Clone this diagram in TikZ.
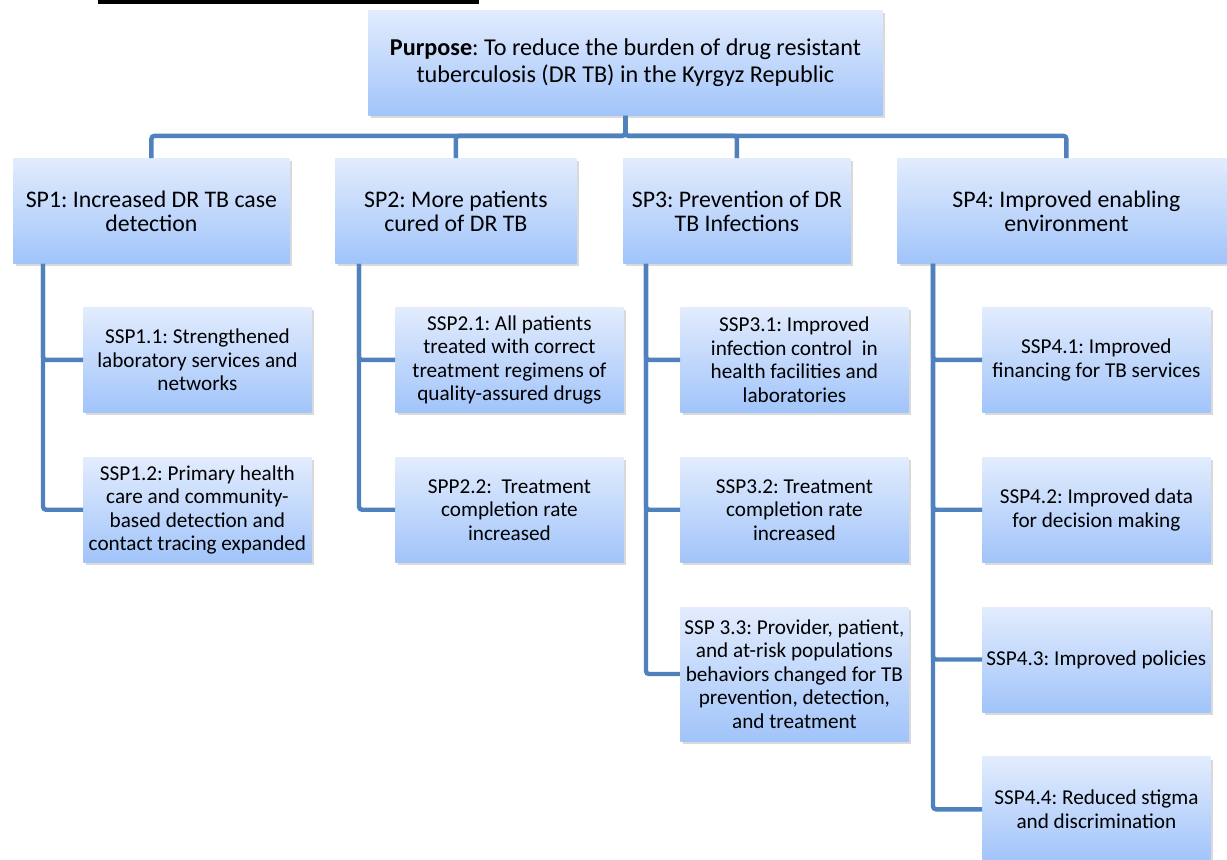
\documentclass[tikz,border=0pt]{standalone}
\usepackage{fontspec}
\setmainfont{Carlito}
\usetikzlibrary{positioning,shadows}

\definecolor{linkblue}{RGB}{79,129,189}
\definecolor{boxtop}{RGB}{226,236,253}
\definecolor{boxbot}{RGB}{161,196,250}

\tikzset{
  box/.style={anchor=north west, align=center, inner sep=2pt,
    top color=boxtop, bottom color=boxbot,
    drop shadow={opacity=0.3, shadow xshift=1.2pt, shadow yshift=-1.5pt}},
  spbox/.style={box, minimum height=52.5pt, font=\fontsize{11.9}{12}\selectfont},
  sspbox/.style={box, minimum width=114pt, minimum height=52.5pt,
    font=\fontsize{10.6}{11.75}\selectfont},
  link/.style={draw=linkblue, line width=2.2pt, rounded corners=1.5pt}
}

\frenchspacing
\begin{document}
\begin{tikzpicture}[x=0.5pt,y=-0.5pt]
\useasboundingbox (0,0) rectangle (1227,859);

\fill (98,0) rectangle (479,4);

\node[box, minimum width=257pt, minimum height=52.5pt,
  font=\fontsize{12.1}{13.5}\selectfont] (purpose) at (368,10)
  {\textbf{Purpose}: To reduce the burden of drug resistant\\tuberculosis (DR TB) in the Kyrgyz Republic};

\node[spbox, minimum width=138pt] (sp1) at (13,158) {SP1: Increased DR TB case\\detection};
\node[spbox, minimum width=120.5pt] (sp2) at (335,158) {SP2: More patients\\cured of DR TB};
\node[spbox, minimum width=113.5pt] (sp3) at (623,158) {SP3: Prevention of DR\\TB Infections};
\node[spbox, minimum width=169pt] (sp4) at (897,158) {SP4: Improved enabling\\environment};

\node[sspbox] (ssp11) at (83,307) {SSP1.1: Strengthened\\laboratory services and\\networks};
\node[sspbox, below=22pt of ssp11] (ssp12) {SSP1.2: Primary health\\care and community-\\based detection and\\contact tracing expanded};

\node[sspbox] (ssp21) at (395,307) {SSP2.1: All patients\\treated with correct\\treatment regimens of\\quality-assured drugs};
\node[sspbox, below=22pt of ssp21] (ssp22) {SPP2.2:\ \ Treatment\\completion rate\\increased};

\node[sspbox] (ssp31) at (680,307) {SSP3.1: Improved\\infection control\ \ in\\health facilities and\\laboratories};
\node[sspbox, below=22pt of ssp31] (ssp32) {SSP3.2: Treatment\\completion rate\\increased};
\node[sspbox, minimum height=67pt, below=22pt of ssp32] (ssp33) {SSP 3.3: Provider, patient,\\and at-risk populations\\behaviors changed for TB\\prevention, detection,\\and treatment};

\node[sspbox] (ssp41) at (982,307) {SSP4.1: Improved\\financing for TB services};
\node[sspbox, below=22pt of ssp41] (ssp42) {SSP4.2: Improved data\\for decision making};
\node[sspbox, below=22pt of ssp42] (ssp43) {SSP4.3: Improved policies};
\node[sspbox, below=22pt of ssp43] (ssp44) {SSP4.4: Reduced stigma\\and discrimination};

% purpose to strategic priorities
\draw[link] (purpose.south) -- ++(0,20) -| (sp1.north);
\draw[link] (purpose.south) -- ++(0,20) -| (sp2.north);
\draw[link] (purpose.south) -- ++(0,20) -| (sp3.north);
\draw[link] (purpose.south) -- ++(0,20) -| (sp4.north);

% sub priorities
\draw[link] ([xshift=15pt]sp1.south west) |- (ssp11.west);
\draw[link] ([xshift=15pt]sp1.south west) |- (ssp12.west);
\draw[link] ([xshift=12pt]sp2.south west) |- (ssp21.west);
\draw[link] ([xshift=12pt]sp2.south west) |- (ssp22.west);
\draw[link] ([xshift=11.5pt]sp3.south west) |- (ssp31.west);
\draw[link] ([xshift=11.5pt]sp3.south west) |- (ssp32.west);
\draw[link] ([xshift=11.5pt]sp3.south west) |- (ssp33.west);
\draw[link] ([xshift=18pt]sp4.south west) |- (ssp41.west);
\draw[link] ([xshift=18pt]sp4.south west) |- (ssp42.west);
\draw[link] ([xshift=18pt]sp4.south west) |- (ssp43.west);
\draw[link] ([xshift=18pt]sp4.south west) |- (ssp44.west);

\end{tikzpicture}
\end{document}
